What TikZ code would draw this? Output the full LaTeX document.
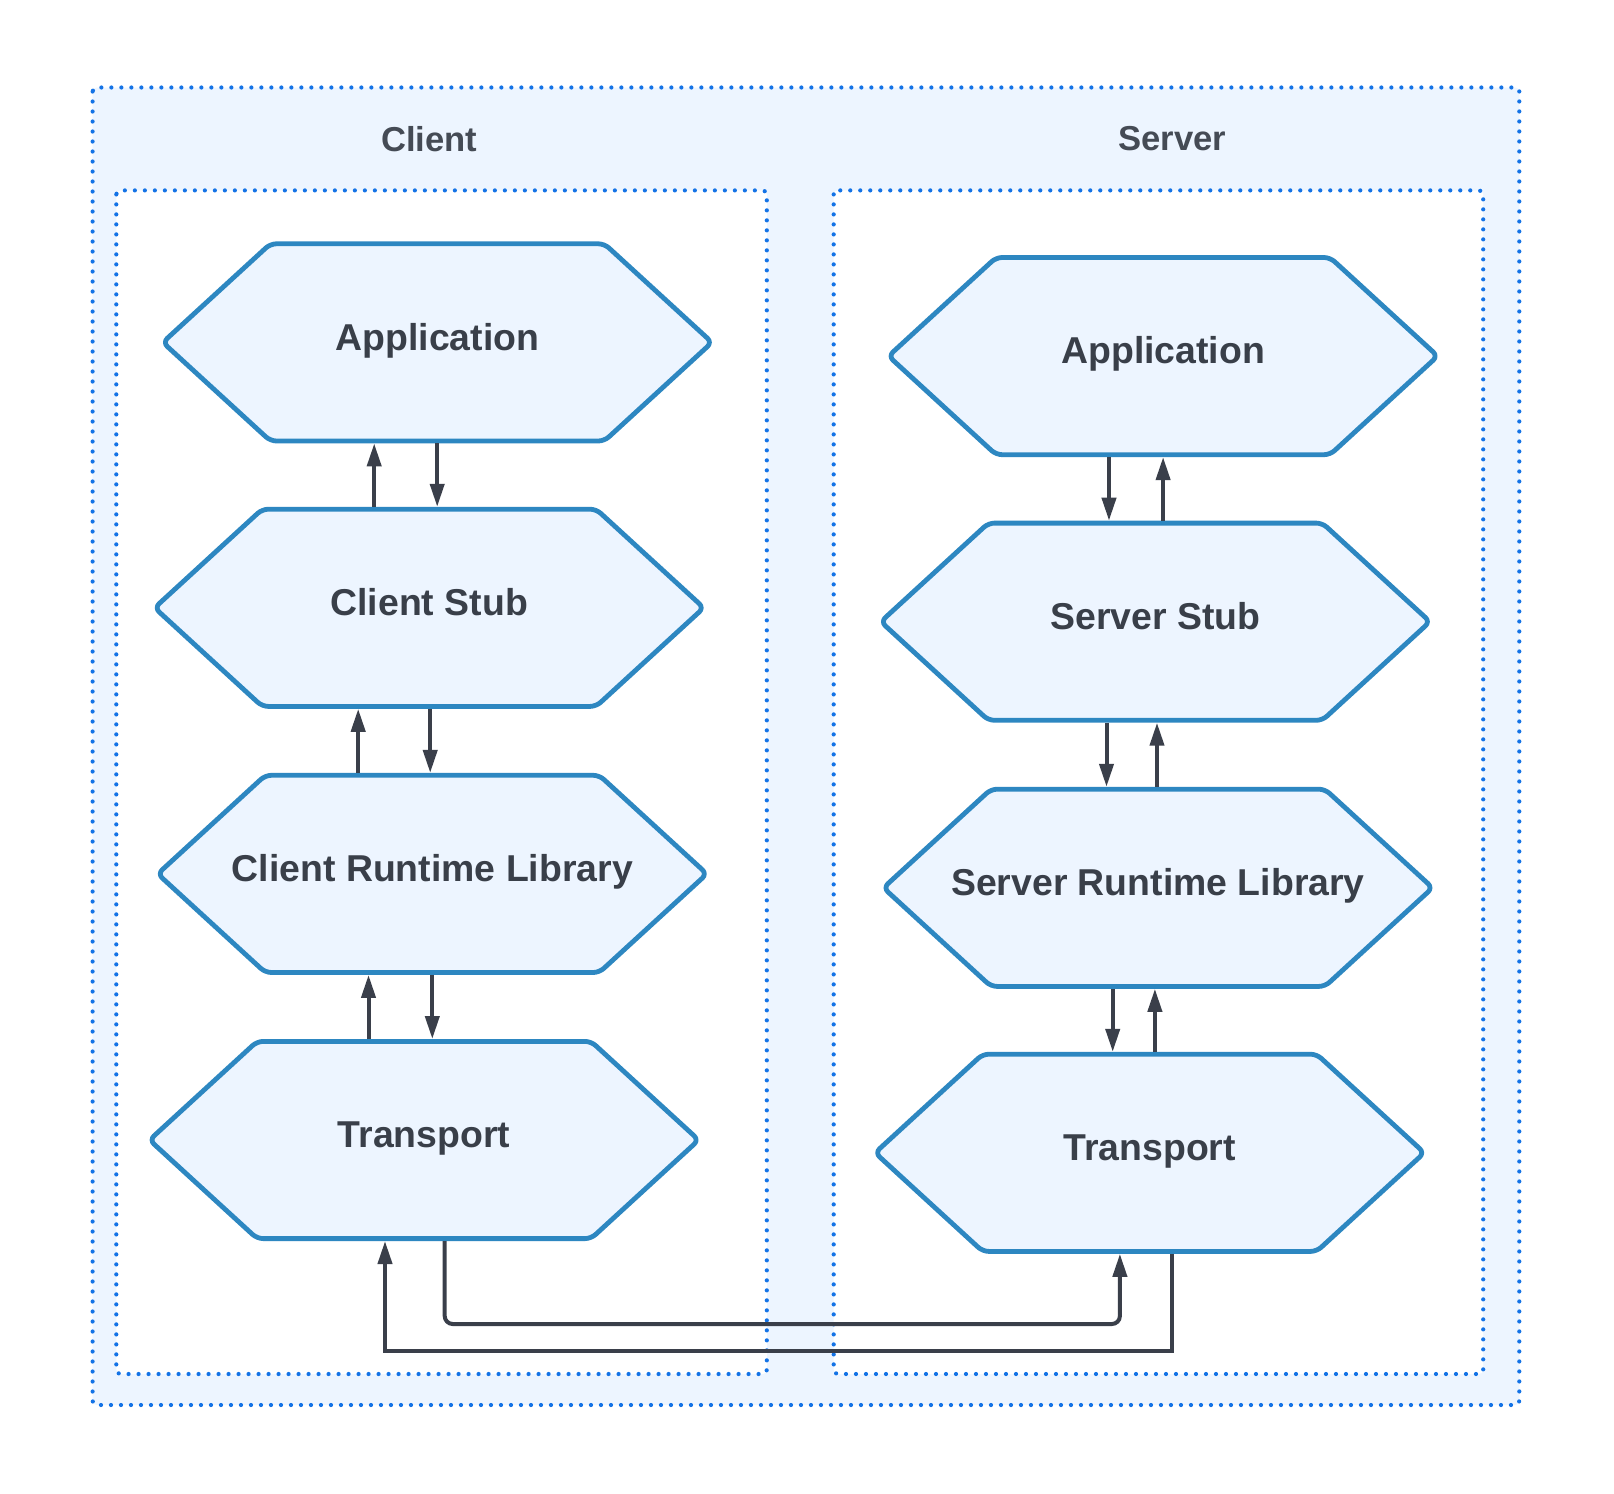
\documentclass[tikz,border=0pt]{standalone}
\usepackage{fontspec}
\setmainfont{Liberation Sans}
\usetikzlibrary{arrows.meta,calc}
\definecolor{dotblue}{HTML}{1473E6}
\definecolor{panelfill}{HTML}{EDF5FF}
\definecolor{hexstroke}{HTML}{2D87C1}
\definecolor{hexfill}{HTML}{EDF5FF}
\definecolor{textdark}{HTML}{393F49}
\definecolor{titlegray}{HTML}{454B55}
\definecolor{arrowdark}{HTML}{3A3F4A}
\tikzset{
  dotframe/.style={draw=dotblue, line width=2.1pt, dash pattern=on 0pt off 5pt, line cap=round, rounded corners=2pt},
  titletext/.style={font=\bfseries\fontsize{17.3}{20}\selectfont, text=titlegray},
  hexa/.style={minimum width=277pt, minimum height=101pt, inner sep=0pt, outer sep=0pt,
    font=\bfseries\fontsize{18.7}{22}\selectfont, text=textdark, text height=13.4pt, text depth=5.8pt,
    path picture={
      \filldraw[fill=hexfill, draw=hexstroke, line width=2.4pt, rounded corners=3pt, line join=round]
        ([xshift=1.2pt]path picture bounding box.west)
        -- ([xshift=55pt,yshift=-1.2pt]path picture bounding box.north west)
        -- ([xshift=-55pt,yshift=-1.2pt]path picture bounding box.north east)
        -- ([xshift=-1.2pt]path picture bounding box.east)
        -- ([xshift=-55pt,yshift=1.2pt]path picture bounding box.south east)
        -- ([xshift=55pt,yshift=1.2pt]path picture bounding box.south west)
        -- cycle;
    }},
  arr/.style={draw=arrowdark, line width=2pt, -{Triangle[length=11.5pt,width=7pt]}}
}
\begin{document}
\begin{tikzpicture}[x=0.5pt,y=-0.5pt]
\useasboundingbox (0,0) rectangle (1614,1494);
\fill[white] (0,0) rectangle (1614,1494);
% containers
\filldraw[dotframe, fill=panelfill] (92.6,87.5) rectangle (1519.3,1405);
\filldraw[dotframe, fill=white] (116.3,190.4) rectangle (766.8,1374);
\filldraw[dotframe, fill=white] (833.7,190.4) rectangle (1483.2,1374);
\node[titletext] (tclient) at (429.2,139) {Client};
\node[titletext] (tserver) at (1172.4,139) {Server};
% client stack
\node[hexa] (capp) at (437.4,342.4) {Application};
\node[hexa] (cstub) at (429.2,607.8) {Client Stub};
\node[hexa] (crl) at (432.3,873.9) {Client Runtime Library};
\node[hexa] (ctr) at (424.1,1140) {Transport};
% server stack
\node[hexa] (sapp) at (1163.1,356.1) {Application};
\node[hexa] (sstub) at (1155.4,621.7) {Server Stub};
\node[hexa] (srl) at (1158,887.8) {Server Runtime Library};
\node[hexa] (str) at (1149.7,1152.8) {Transport};
% arrow x positions
\coordinate (a1) at (374.2,0);
\coordinate (a2) at (437.2,0);
\coordinate (a3) at (358.2,0);
\coordinate (a4) at (430.2,0);
\coordinate (a5) at (368.5,0);
\coordinate (a6) at (432.3,0);
\coordinate (s1) at (1109,0);
\coordinate (s2) at (1163.1,0);
\coordinate (s3) at (1106.5,0);
\coordinate (s4) at (1157,0);
\coordinate (s5) at (1112.7,0);
\coordinate (s6) at (1154.9,0);
% client arrows
\draw[arr] (cstub.north -| a1) -- (capp.south -| a1);
\draw[arr] (capp.south -| a2) -- (cstub.north -| a2);
\draw[arr] (crl.north -| a3) -- (cstub.south -| a3);
\draw[arr] (cstub.south -| a4) -- (crl.north -| a4);
\draw[arr] (ctr.north -| a5) -- (crl.south -| a5);
\draw[arr] (crl.south -| a6) -- (ctr.north -| a6);
% server arrows
\draw[arr] (sapp.south -| s1) -- (sstub.north -| s1);
\draw[arr] (sstub.north -| s2) -- (sapp.south -| s2);
\draw[arr] (sstub.south -| s3) -- (srl.north -| s3);
\draw[arr] (srl.north -| s4) -- (sstub.south -| s4);
\draw[arr] (srl.south -| s5) -- (str.north -| s5);
\draw[arr] (str.north -| s6) -- (srl.south -| s6);
% bottom connectors
\coordinate (b1l) at (444.7,1324);
\coordinate (b1r) at (1119.9,1324);
\coordinate (b2r) at (1172.4,1351);
\coordinate (b2l) at (385,1351);
\draw[arr, rounded corners=4pt] (ctr.south -| b1l) -- (b1l) -- (b1r) -- (str.south -| b1r);
\draw[arr] (str.south -| b2r) -- (b2r) -- (b2l) -- (ctr.south -| b2l);
\end{tikzpicture}
\end{document}
